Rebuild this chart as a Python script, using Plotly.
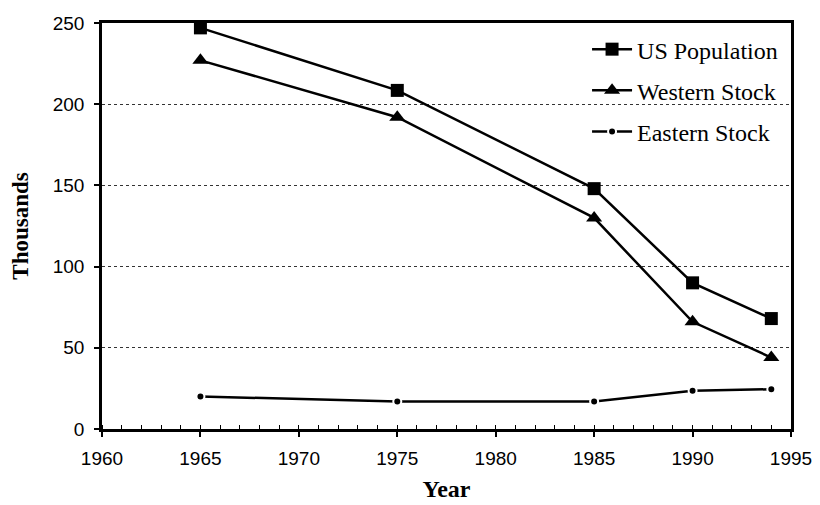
import plotly.graph_objects as go

years = [1965, 1975, 1985, 1990, 1994]
us_population = [247, 208.5, 148, 90, 68]
western_stock = [227, 192, 130, 66, 44]
eastern_stock = [20, 17, 17, 23.5, 24.5]

x_ticks = [1960, 1965, 1970, 1975, 1980, 1985, 1990, 1995]
y_ticks = [0, 50, 100, 150, 200, 250]

fig = go.Figure()
fig.add_trace(go.Scatter(x=years, y=us_population, name="US Population", mode="lines+markers",
                         line=dict(color="black", width=2.5),
                         marker=dict(symbol="square", size=13, color="black"),
                         legendgroup="a"))
fig.add_trace(go.Scatter(x=years, y=western_stock, name="Western Stock", mode="lines+markers",
                         line=dict(color="black", width=2.5),
                         marker=dict(symbol="triangle-up", size=14, color="black"),
                         legendgroup="b"))
fig.add_trace(go.Scatter(x=years, y=eastern_stock, name="Eastern Stock", mode="lines+markers",
                         line=dict(color="black", width=2.5),
                         marker=dict(symbol="circle", size=8, color="black", line=dict(color="white", width=2)),
                         legendgroup="c"))

fig.update_layout(
    width=812, height=497,
    margin=dict(l=94, r=29, t=15, b=76, autoexpand=False),
    paper_bgcolor="white", plot_bgcolor="white",
    showlegend=True,
    legend=dict(x=0.704, y=0.99, xanchor="left", yanchor="top",
                font=dict(family="Liberation Serif", size=24, color="black"),
                bgcolor="rgba(0,0,0,0)", tracegroupgap=7, itemwidth=40),
    font=dict(family="Liberation Sans", color="black"),
)
fig.update_xaxes(range=[1960, 1995], tickvals=x_ticks, ticks="outside", ticklen=5, tickwidth=1.5,
                 tickcolor="black", showline=True, linecolor="black", linewidth=2.5, mirror=True,
                 showgrid=False, zeroline=False, ticklabelstandoff=5, automargin=False,
                 minor=dict(dtick=1, ticks="inside", ticklen=4, tickcolor="black", tickwidth=1),
                 tickfont=dict(family="Liberation Sans", size=19, color="black"),
                 title=dict(text="<b>Year</b>", font=dict(family="Liberation Serif", size=24, color="black"), standoff=13))
fig.update_yaxes(range=[0, 250], tickvals=y_ticks, ticks="outside", ticklen=5, tickwidth=1.5,
                 tickcolor="black", showline=True, linecolor="black", linewidth=2.5, mirror=True,
                 showgrid=True, gridcolor="#333", griddash="dot", gridwidth=1, zeroline=False,
                 ticklabelstandoff=6, automargin=False,
                 tickfont=dict(family="Liberation Sans", size=19, color="black"),
                 title=dict(text="<b>Thousands</b>", font=dict(family="Liberation Serif", size=23, color="black"), standoff=18))

fig.write_html("out.html")
